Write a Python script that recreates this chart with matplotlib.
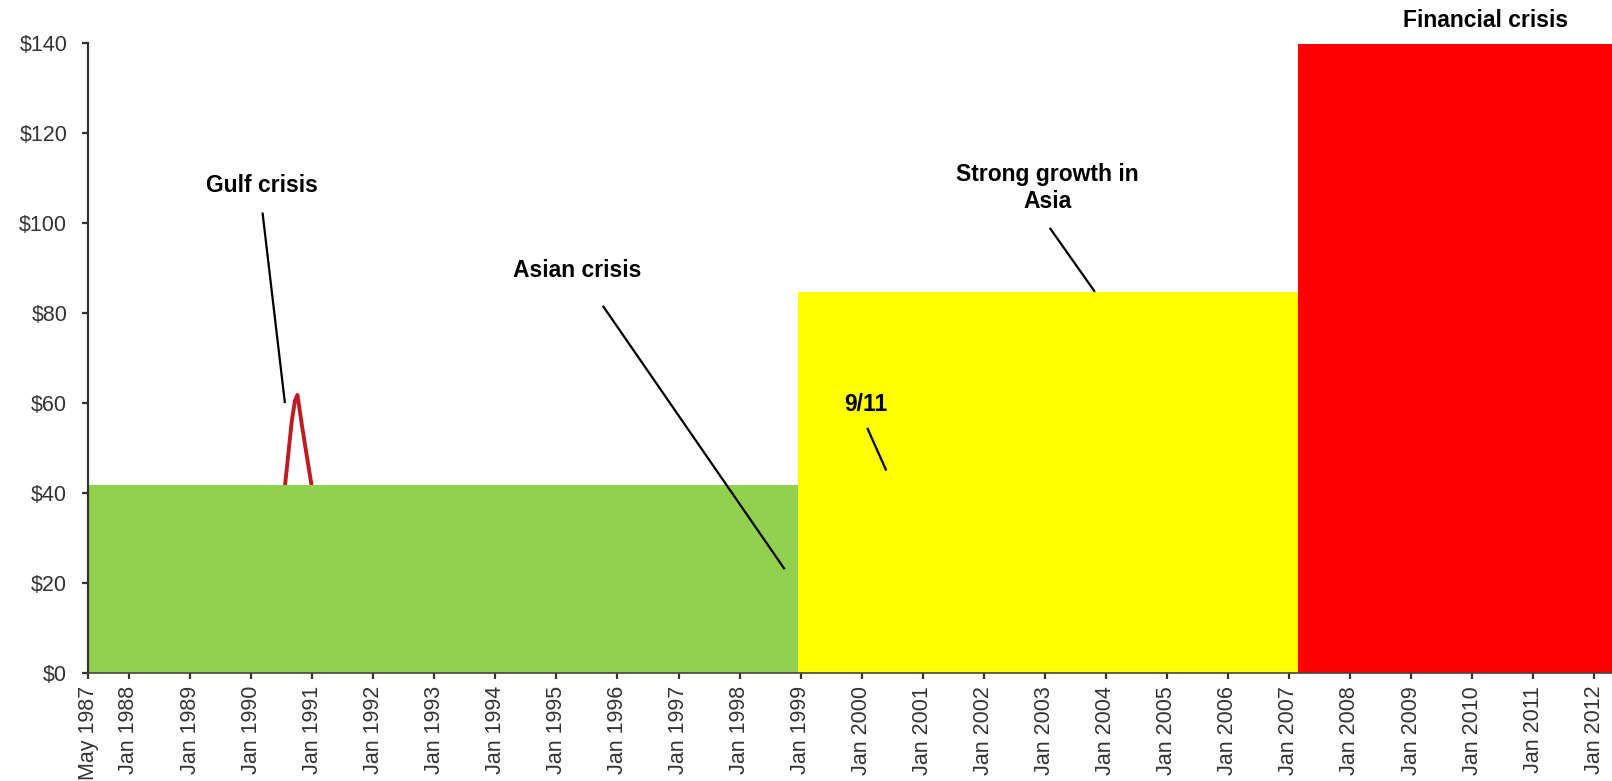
import matplotlib
matplotlib.use("Agg")
import matplotlib.pyplot as plt
import matplotlib.dates as mdates
import pandas as pd

plt.rcParams["font.family"] = ["Liberation Sans", "DejaVu Sans"]

# Price regimes (start, end, level in US$)
period_starts = ["1987-05-01", "1998-12-18", "2007-02-22"]
period_ends = ["1998-12-18", "2007-02-22", "2012-06-01"]
period_levels = [41.7, 84.7, 139.7]
period_colors = ["#92d050", "#ffff00", "#ff0000"]

# Gulf-crisis price spike
spike_dates = ["1990-06-01", "1990-07-01", "1990-08-01", "1990-09-01", "1990-09-20",
               "1990-10-05", "1990-11-01", "1990-12-01", "1991-01-01", "1991-02-01"]
spike_values = [25.0, 34.0, 45.0, 56.0, 60.5, 61.8, 55.0, 48.0, 40.9, 33.0]

# Axis ticks
x_tick_dates = ["1987-05-01"] + [f"{y}-01-01" for y in range(1988, 2013)]
x_tick_labels = ["May 1987"] + [f"Jan {y}" for y in range(1988, 2013)]
y_ticks = [0, 20, 40, 60, 80, 100, 120, 140]
y_tick_labels = ["$0", "$20", "$40", "$60", "$80", "$100", "$120", "$140"]

# Event annotations: label, label position, leader line start/end
events = [
    ("Gulf crisis", "1990-03-04", 108.2, ("1990-03-10", 102.3), ("1990-07-22", 60.0)),
    ("Asian crisis", "1995-05-08", 89.4, ("1995-10-06", 81.6), ("1998-09-28", 23.1)),
    ("Strong growth in\nAsia", "2003-01-19", 107.8, ("2003-01-31", 98.9), ("2003-10-28", 84.7)),
    ("9/11", "2000-01-29", 59.6, ("2000-02-04", 54.5), ("2000-05-28", 45.0)),
    ("Financial crisis", "2010-03-24", 145.0, None, None),
]

fig = plt.figure(figsize=(16.12, 7.81), dpi=100)
ax = fig.add_axes([0.0546, 0.1379, 1 - 0.0546, 0.8074])

# Spike line sits behind the blocks
ax.plot(pd.to_datetime(spike_dates), spike_values, color="#c01a22", lw=2.8,
        zorder=0.5, solid_joinstyle="round")

starts = mdates.date2num(pd.to_datetime(period_starts))
ends = mdates.date2num(pd.to_datetime(period_ends))
ax.bar(starts, period_levels, width=ends - starts, align="edge",
       color=period_colors, edgecolor="none", zorder=1)

for label, tx, ty, p0, p1 in events:
    ax.text(pd.Timestamp(tx), ty, label, ha="center", va="center",
            fontsize=16.5, fontweight="bold", color="black",
            linespacing=1.2, clip_on=False, zorder=5)
    if p0 is not None:
        ax.plot([pd.Timestamp(p0[0]), pd.Timestamp(p1[0])], [p0[1], p1[1]],
                color="black", lw=1.6, zorder=4, solid_capstyle="butt")

ax.set_xlim(pd.Timestamp("1987-05-01"), pd.Timestamp("2012-04-17"))
ax.set_ylim(0, 140)

ax.set_xticks(pd.to_datetime(x_tick_dates))
ax.set_xticklabels(x_tick_labels, rotation=90, fontsize=15.5, color="#333333")
ax.set_yticks(y_ticks)
ax.set_yticklabels(y_tick_labels, fontsize=15.5, color="#333333")

ax.tick_params(axis="x", length=4, width=1.6, color="#333333", pad=5)
ax.tick_params(axis="y", length=4, width=1.6, color="#333333", pad=11)

for side in ("top", "right"):
    ax.spines[side].set_visible(False)
ax.spines["left"].set_color("#333333")
ax.spines["left"].set_linewidth(1.6)
ax.spines["bottom"].set_color("#444444")
ax.spines["bottom"].set_linewidth(1.2)

fig.savefig("out.png", dpi=100)
